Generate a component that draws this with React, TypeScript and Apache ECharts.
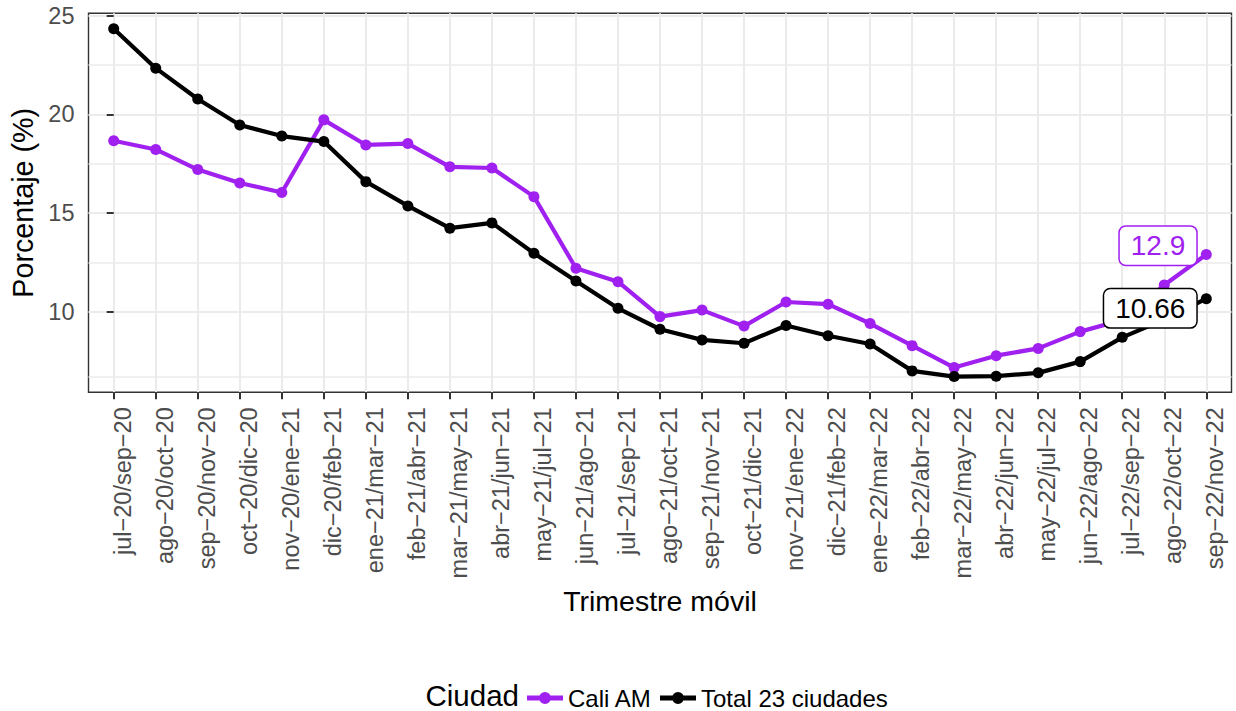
import React, { useEffect, useRef } from "react";
import * as echarts from "echarts";

const categories = [
  "jul−20/sep−20", "ago−20/oct−20", "sep−20/nov−20", "oct−20/dic−20", "nov−20/ene−21",
  "dic−20/feb−21", "ene−21/mar−21", "feb−21/abr−21", "mar−21/may−21", "abr−21/jun−21",
  "may−21/jul−21", "jun−21/ago−21", "jul−21/sep−21", "ago−21/oct−21", "sep−21/nov−21",
  "oct−21/dic−21", "nov−21/ene−22", "dic−21/feb−22", "ene−22/mar−22", "feb−22/abr−22",
  "mar−22/may−22", "abr−22/jun−22", "may−22/jul−22", "jun−22/ago−22", "jul−22/sep−22",
  "ago−22/oct−22", "sep−22/nov−22",
];

const caliValues = [
  18.66, 18.22, 17.2, 16.52, 16.04, 19.72, 18.45, 18.52, 17.34, 17.28, 15.83, 12.2, 11.52,
  9.75, 10.08, 9.27, 10.49, 10.38, 9.4, 8.28, 7.17, 7.77, 8.14, 8.99, 9.58, 11.35, 12.9,
];

const totalValues = [
  24.34, 22.34, 20.78, 19.46, 18.9, 18.62, 16.59, 15.36, 14.23, 14.5, 12.96, 11.56, 10.17,
  9.11, 8.57, 8.4, 9.3, 8.78, 8.36, 7.0, 6.71, 6.73, 6.9, 7.47, 8.7, 9.6, 10.66,
];

const yMajorTicks = [10, 15, 20, 25];
const yMinorTicks = [6.69, 12.5, 17.5, 22.5];

const seriesNames = ["Cali AM", "Total 23 ciudades"];
const seriesColors = ["#A020F0", "#000000"];

const FONT = "Liberation Sans, Arial, Helvetica, sans-serif";
const LEGEND_ICON =
  "path://M0,3.5L36,3.5L36,8.5L0,8.5Z M24,6A6,6 0 1 1 12,6A6,6 0 1 1 24,6Z";

function buildData(values: number[], color: string, offsetY: number) {
  return values.map((v, i) => {
    if (i === values.length - 1) {
      return {
        value: [i, v],
        label: {
          show: true,
          position: "left",
          distance: 4.5,
          offset: [0, offsetY],
          formatter: () => String(v),
          color: color,
          fontFamily: FONT,
          fontSize: 28,
          backgroundColor: "#ffffff",
          borderColor: color,
          borderWidth: 1.5,
          borderRadius: 6,
          padding: [5, 11, 5, 11],
        },
      };
    }
    return [i, v];
  });
}

export default function App() {
  const ref = useRef<HTMLDivElement>(null);

  useEffect(() => {
    if (!ref.current) return;
    const chart = echarts.init(ref.current, undefined, { renderer: "svg" });
    const idx = categories.map((_, i) => i);

    const option: any = {
      animation: false,
      backgroundColor: "#ffffff",
      textStyle: { fontFamily: FONT },
      grid: {
        left: 88.5,
        right: 4.5,
        top: 13.3,
        bottom: 711 - 392.3,
        show: true,
        borderColor: "#333333",
        borderWidth: 1.4,
        backgroundColor: "transparent",
        containLabel: false,
      },
      legend: {
        left: 527,
        top: 686,
        padding: 0,
        itemWidth: 36,
        itemHeight: 12,
        itemGap: 8,
        data: seriesNames.map((n) => ({ name: n, icon: LEGEND_ICON })),
        textStyle: { fontFamily: FONT, fontSize: 24, color: "#000000" },
      },
      graphic: [
        {
          type: "text",
          left: 425.5,
          top: 680,
          style: {
            text: "Ciudad",
            fontFamily: FONT,
            fontSize: 29.5,
            fill: "#000000",
          },
        },
      ],
      xAxis: {
        type: "value",
        min: -0.6,
        max: 26.6,
        name: "Trimestre móvil",
        nameLocation: "middle",
        nameGap: 192,
        nameTextStyle: { fontFamily: FONT, fontSize: 28.5, color: "#000000" },
        axisLine: { show: false },
        axisTick: {
          show: true,
          length: 7,
          lineStyle: { color: "#333333", width: 2 },
          customValues: idx,
        },
        axisLabel: {
          show: true,
          rotate: 90,
          margin: 15,
          fontFamily: FONT,
          fontSize: 23.5,
          color: "#4D4D4D",
          verticalAlign: "top",
          lineHeight: 18,
          customValues: idx,
          formatter: (v: number) => categories[Math.round(v)] ?? "",
        },
        splitLine: { show: true, lineStyle: { color: "#EBEBEB", width: 2 } },
      },
      yAxis: [
        {
          type: "value",
          min: 5.915,
          max: 25.12,
          name: "Porcentaje (%)",
          nameLocation: "middle",
          nameGap: 50,
          nameRotate: 90,
          nameTextStyle: { fontFamily: FONT, fontSize: 28.7, color: "#000000" },
          axisLine: { show: false },
          axisTick: {
            show: true,
            length: 7,
            lineStyle: { color: "#333333", width: 2 },
            customValues: yMajorTicks,
          },
          axisLabel: {
            show: true,
            margin: 14,
            fontFamily: FONT,
            fontSize: 23.5,
            color: "#4D4D4D",
            customValues: yMajorTicks,
          },
          splitLine: { show: true, lineStyle: { color: "#EBEBEB", width: 2 } },
        },
        {
          type: "value",
          min: 5.915,
          max: 25.12,
          position: "left",
          axisLine: { show: false },
          axisTick: { show: false, customValues: yMinorTicks },
          axisLabel: { show: false, customValues: yMinorTicks },
          splitLine: { show: true, lineStyle: { color: "#EBEBEB", width: 1.6 } },
        },
      ],
      series: [
        {
          name: seriesNames[0],
          type: "line",
          data: buildData(caliValues, seriesColors[0], -8.8),
          color: seriesColors[0],
          symbol: "circle",
          symbolSize: 11,
          showAllSymbol: true,
          lineStyle: { width: 4.2, color: seriesColors[0] },
          itemStyle: { color: seriesColors[0] },
          z: 3,
        },
        {
          name: seriesNames[1],
          type: "line",
          data: buildData(totalValues, seriesColors[1], 9.7),
          color: seriesColors[1],
          symbol: "circle",
          symbolSize: 11,
          showAllSymbol: true,
          lineStyle: { width: 4.2, color: seriesColors[1] },
          itemStyle: { color: seriesColors[1] },
          z: 4,
        },
      ],
    };

    chart.setOption(option);
    return () => {
      chart.dispose();
    };
  }, []);

  return (
    <div
      ref={ref}
      style={{ position: "fixed", left: 0, top: 0, width: 1236, height: 711, background: "#fff" }}
    />
  );
}
